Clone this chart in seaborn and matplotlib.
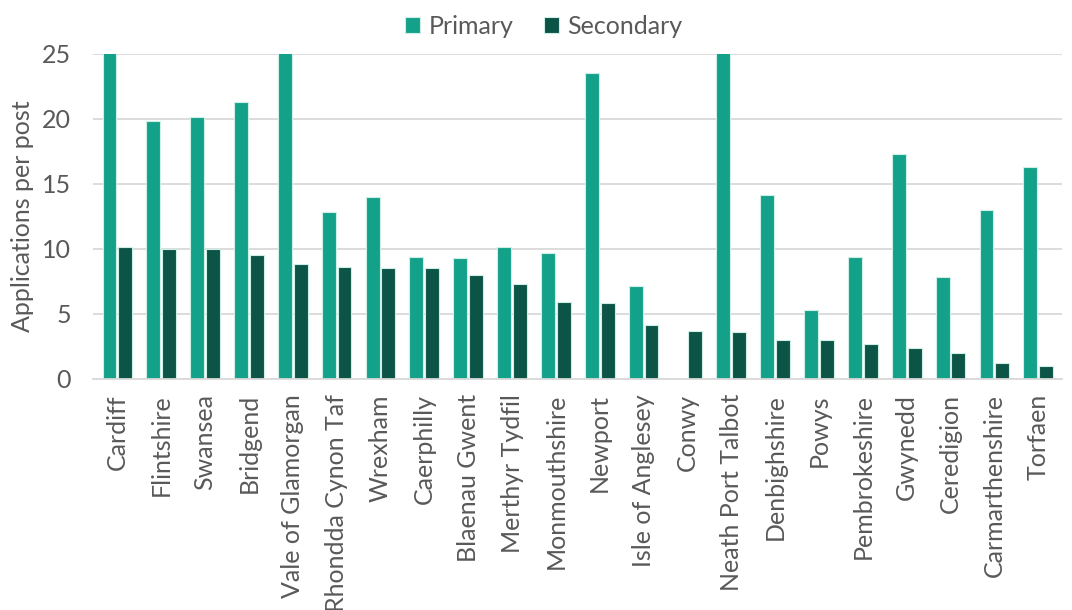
import pandas as pd
import matplotlib.pyplot as plt
import seaborn as sns

# Local authorities (x axis order)
areas = ["Cardiff", "Flintshire", "Swansea", "Bridgend", "Vale of Glamorgan",
         "Rhondda Cynon Taf", "Wrexham", "Caerphilly", "Blaenau Gwent",
         "Merthyr Tydfil", "Monmouthshire", "Newport", "Isle of Anglesey",
         "Conwy", "Neath Port Talbot", "Denbighshire", "Powys",
         "Pembrokeshire", "Gwynedd", "Ceredigion", "Carmarthenshire", "Torfaen"]

# Applications per post (bars above 25 are cut off by the axis in the original)
primary = [30.0, 19.8, 20.1, 21.3, 30.0, 12.8, 14.0, 9.4, 9.3, 10.1, 9.7,
           23.5, 7.1, None, 30.0, 14.1, 5.3, 9.4, 17.3, 7.8, 13.0, 16.3]
secondary = [10.1, 10.0, 10.0, 9.5, 8.8, 8.6, 8.5, 8.5, 8.0, 7.3, 5.9,
             5.8, 4.1, 3.7, 3.6, 3.0, 3.0, 2.7, 2.4, 2.0, 1.2, 1.0]

df = pd.DataFrame({"Area": areas, "Primary": primary, "Secondary": secondary})
long_df = df.melt(id_vars="Area", var_name="Phase", value_name="Applications per post")

text_color = "#595959"
colors = {"Primary": "#13A18A", "Secondary": "#0B5446"}

sns.set_theme(style="white")
plt.rcParams['font.family'] = ['Lato', 'DejaVu Sans']

fig = plt.figure(figsize=(10.72, 6.10), dpi=100)
ax = fig.add_axes([0.087, 0.379, 0.904, 0.533])

sns.barplot(data=long_df, x="Area", y="Applications per post", hue="Phase",
            order=areas, hue_order=["Primary", "Secondary"], palette=colors,
            saturation=1, width=0.72, gap=0.12, ax=ax,
            linewidth=0.8, edgecolor="#cfeee6")

ax.set_ylim(0, 25)
ax.set_yticks([0, 5, 10, 15, 20, 25])
ax.yaxis.grid(True, color="#d9d9d9", linewidth=1.3)
ax.set_axisbelow(True)
for s in ["top", "right", "left"]:
    ax.spines[s].set_visible(False)
ax.spines["bottom"].set_color("#d9d9d9")
ax.spines["bottom"].set_linewidth(1.3)
ax.set_xlim(-0.55, len(areas) - 0.45)

ax.tick_params(axis="both", length=0, colors=text_color, labelsize=18)
ax.tick_params(axis="x", pad=11)
ax.tick_params(axis="y", pad=16)
plt.setp(ax.get_xticklabels(), rotation=90)
ax.set_xlabel("")
ax.set_ylabel("Applications per post", fontsize=18, color=text_color, labelpad=6)

ax.legend(loc="center", bbox_to_anchor=(0.465, 1.085), ncol=2, frameon=False,
          fontsize=18, labelcolor=text_color, handlelength=0.6, handleheight=0.6,
          columnspacing=1.2, handletextpad=0.35)

plt.savefig("out.png", dpi=100)
